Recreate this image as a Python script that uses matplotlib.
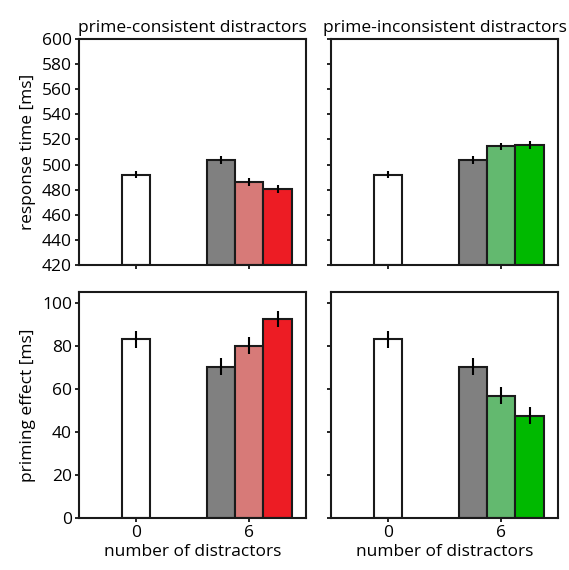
import matplotlib.pyplot as plt

plt.rcParams['font.family'] = ['Open Sans', 'DejaVu Sans']

# data
groups = ["0", "6"]
titles = ["prime-consistent distractors", "prime-inconsistent distractors"]

rt_base = 492
rt_base_err = 3
rt_cons = [503.5, 486, 480.5]
rt_cons_err = [3, 3, 3]
rt_incons = [503.5, 514.5, 515.5]
rt_incons_err = [3, 3, 3]

pe_base = 83
pe_base_err = 4
pe_cons = [70.3, 80, 92.4]
pe_cons_err = [4, 4, 3.7]
pe_incons = [70.3, 56.8, 47.5]
pe_incons_err = [4, 4, 4]

cons_colors = ["#808080", "#d77a78", "#ed1c24"]
incons_colors = ["#808080", "#63b96f", "#00b900"]

fig = plt.figure(figsize=(5.69, 5.70), dpi=100)

W = 227 / 569
H = 226 / 570
lefts = [79 / 569, 331 / 569]
bottoms = [(570 - 265) / 570, (570 - 518) / 570]

panels = [
    (0, 0, rt_base, rt_base_err, rt_cons, rt_cons_err, cons_colors),
    (0, 1, rt_base, rt_base_err, rt_incons, rt_incons_err, incons_colors),
    (1, 0, pe_base, pe_base_err, pe_cons, pe_cons_err, cons_colors),
    (1, 1, pe_base, pe_base_err, pe_incons, pe_incons_err, incons_colors),
]

bw = 0.25
fs = 12.5
for row, col, base, base_err, vals, errs, cols in panels:
    ax = fig.add_axes([lefts[col], bottoms[row], W, H])
    bottom = 420 if row == 0 else 0
    ax.bar(0, base - bottom, bw, bottom=bottom, color="white",
           edgecolor="#1a1a1a", linewidth=1.5)
    ax.errorbar(0, base, yerr=base_err, fmt="none", ecolor="black",
                elinewidth=1.5, capsize=0)
    xs = [1 - bw, 1, 1 + bw]
    for x, v, e, c in zip(xs, vals, errs, cols):
        ax.bar(x, v - bottom, bw, bottom=bottom, color=c,
               edgecolor="#1a1a1a", linewidth=1.5)
        ax.errorbar(x, v, yerr=e, fmt="none", ecolor="black",
                    elinewidth=1.5, capsize=0)
    ax.set_xlim(-0.5, 1.5)
    ax.set_xticks([0, 1])
    if row == 0:
        ax.set_ylim(420, 600)
        ax.set_yticks(range(420, 601, 20))
        ax.set_xticklabels([])
        ax.set_title(titles[col], fontsize=fs, pad=5)
    else:
        ax.set_ylim(0, 105)
        ax.set_yticks(range(0, 101, 20))
        ax.set_xticklabels(groups)
        ax.set_xlabel("number of distractors", fontsize=fs, labelpad=2)
    if col == 1:
        ax.set_yticklabels([])
    else:
        ax.set_ylabel("response time [ms]" if row == 0 else "priming effect [ms]",
                      fontsize=fs, labelpad=4)
    ax.tick_params(labelsize=fs, length=3, width=1.2, direction="out", pad=2)
    for s in ax.spines.values():
        s.set_linewidth(1.5)
        s.set_color("#1a1a1a")

fig.savefig("out.png", dpi=100)
